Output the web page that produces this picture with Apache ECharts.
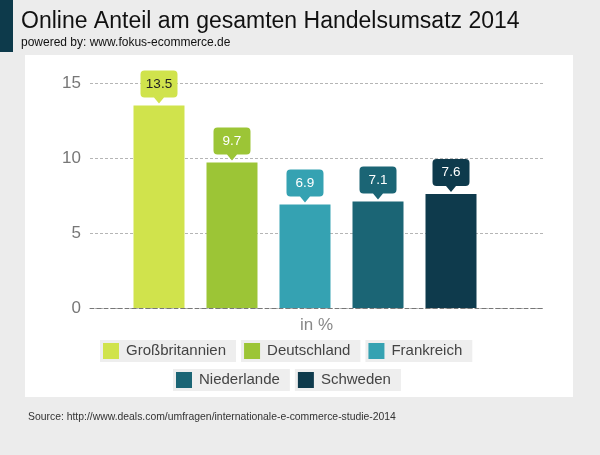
<!DOCTYPE html>
<html>
<head>
<meta charset="utf-8">
<script src="https://cdn.jsdelivr.net/npm/echarts@6/dist/echarts.min.js"></script>
<style>
html,body{margin:0;padding:0;background:#ececec;}
#chart{width:600px;height:455px;}
</style>
</head>
<body>
<div id="chart"></div>
<script>
var titleText = 'Online Anteil am gesamten Handelsumsatz 2014';
var subtitleText = 'powered by: www.fokus-ecommerce.de';
var sourceText = 'Source: http://www.deals.com/umfragen/internationale-e-commerce-studie-2014';
var categories = ['in %'];
var countries = ['Großbritannien', 'Deutschland', 'Frankreich', 'Niederlande', 'Schweden'];
var values = [13.5, 9.7, 6.9, 7.1, 7.6];
var colors = ['#d0e34c', '#9cc536', '#35a2b2', '#1b6575', '#0e3a4c'];
var labelColors = ['#222222', '#ffffff', '#ffffff', '#ffffff', '#ffffff'];
var yTicks = [0, 5, 10, 15];

var FONT = '"Liberation Sans", Arial, Helvetica, sans-serif';
var calloutPath = 'path://M4,0 L33,0 Q37,0 37,4 L37,23 Q37,27 33,27 L23.5,27 L18.5,33 L13.5,27 L4,27 Q0,27 0,23 L0,4 Q0,0 4,0 Z';

var series = countries.map(function (name, i) {
  return {
    type: 'bar',
    name: name,
    data: [values[i]],
    barWidth: 51,
    barGap: '43.14%',
    itemStyle: { color: colors[i] },
    emphasis: { disabled: true },
    markPoint: {
      symbol: calloutPath,
      symbolSize: [37, 33],
      symbolKeepAspect: false,
      symbolOffset: [0, -18.5],
      data: [{ type: 'max' }],
      itemStyle: { color: colors[i] },
      label: {
        show: true,
        formatter: '{c}',
        color: labelColors[i],
        fontSize: 13.5,
        fontFamily: FONT,
        offset: [0, -3]
      },
      emphasis: { disabled: true }
    }
  };
});
// zero-width spacer series that shifts the bar group like the original layout
series.push({ type: 'bar', name: '_spacer', data: [], barWidth: 1, barGap: '43.14%' });

var rich = { t: { padding: [0, 0, 0, 7], fontSize: 15, color: '#444', fontFamily: FONT, lineHeight: 16 } };
colors.forEach(function (c, i) {
  rich['s' + i] = { backgroundColor: c, width: 16, height: 16 };
});
function legendFmt(name) {
  return '{s' + countries.indexOf(name) + '|}{t|' + name + '}';
}
function makeLegend(names, left, top) {
  return {
    data: names,
    left: left,
    top: top,
    padding: 0,
    itemGap: 0,
    itemWidth: 0,
    itemHeight: 0,
    icon: 'rect',
    selectedMode: false,
    formatter: legendFmt,
    textStyle: {
      backgroundColor: '#eeeeee',
      padding: [3, 10, 3, 3],
      fontSize: 15,
      lineHeight: 16,
      color: '#444',
      fontFamily: FONT,
      rich: rich
    }
  };
}

var chart = echarts.init(document.getElementById('chart'), null, { renderer: 'canvas' });
chart.setOption({
  backgroundColor: '#ececec',
  animation: false,
  textStyle: { fontFamily: FONT },
  graphic: [
    { type: 'rect', shape: { x: 0, y: 0, width: 13, height: 52 }, style: { fill: '#0d3a4b' }, z: -10 },
    { type: 'rect', shape: { x: 25, y: 55, width: 548, height: 342 }, style: { fill: '#ffffff' }, z: -10 }
  ],
  title: [
    {
      text: titleText,
      subtext: subtitleText,
      left: 21,
      top: 10,
      itemGap: 4,
      padding: 0,
      textStyle: { fontSize: 23, fontWeight: 'normal', color: '#111', fontFamily: FONT },
      subtextStyle: { fontSize: 12, color: '#111', fontFamily: FONT }
    },
    {
      text: sourceText,
      left: 28,
      top: 412,
      padding: 0,
      textStyle: { fontSize: 10.4, fontWeight: 'normal', color: '#333', fontFamily: FONT }
    }
  ],
  legend: [
    makeLegend(countries.slice(0, 3), 95, 340),
    makeLegend(countries.slice(3), 168, 369)
  ],
  grid: { left: 90, right: 57, top: 83, bottom: 147, containLabel: false },
  xAxis: {
    type: 'category',
    data: categories,
    axisTick: { show: false },
    axisLine: { show: true, lineStyle: { color: '#777', type: [4, 3], width: 1 } },
    axisLabel: { fontSize: 17, color: '#888', margin: 9, fontFamily: FONT }
  },
  yAxis: {
    type: 'value',
    min: yTicks[0],
    max: yTicks[yTicks.length - 1],
    interval: yTicks[1] - yTicks[0],
    axisLine: { show: false },
    axisTick: { show: false },
    axisLabel: { fontSize: 17, color: '#777', margin: 9, fontFamily: FONT },
    splitLine: { lineStyle: { color: '#b5b5b5', type: [3, 2], width: 1 } }
  },
  series: series
});
</script>
</body>
</html>
